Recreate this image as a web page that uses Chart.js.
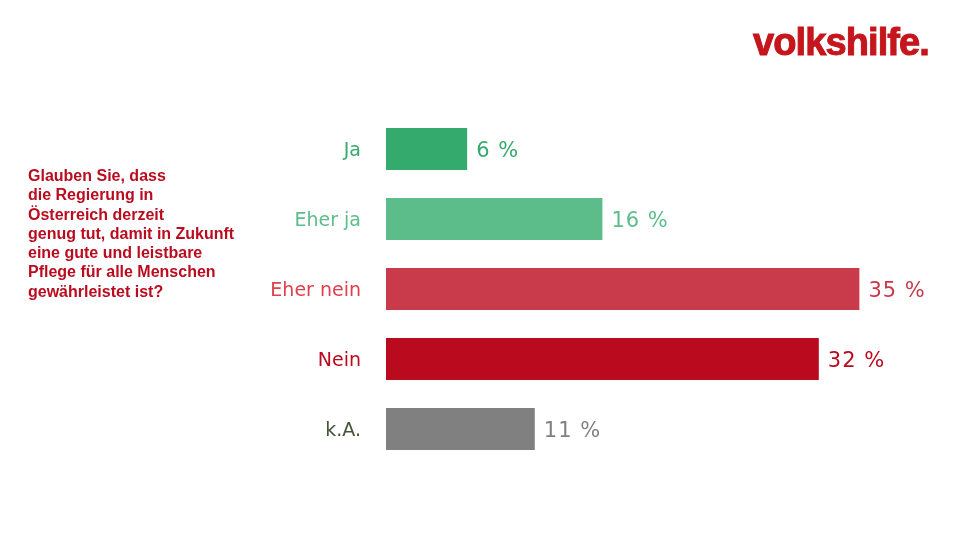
<!DOCTYPE html>
<html>
<head>
<meta charset="utf-8">
<script src="https://cdn.jsdelivr.net/npm/chart.js@4"></script>
<style>
  html, body { margin:0; padding:0; background:#fff; }
  #wrap { position:relative; width:960px; height:540px; overflow:hidden; }
  #c { position:absolute; left:0; top:0; }
  #logo { position:absolute; left:753px; top:23px; font-family:"Liberation Sans", Arial, sans-serif; font-weight:bold; font-size:38px; line-height:1; letter-spacing:-0.9px; color:#C4161C; -webkit-text-stroke:1px #C4161C; white-space:nowrap; }
  #question { position:absolute; left:28px; top:166px; font-family:"Liberation Sans", Arial, sans-serif; font-weight:bold; font-size:16px; line-height:19.3px; color:#BA0C1F; white-space:nowrap; }
</style>
</head>
<body>
<div id="wrap">
  <canvas id="c" width="960" height="540"></canvas>
  <div id="logo">volkshilfe.</div>
  <div id="question">Glauben Sie, dass<br>die Regierung in<br>Österreich derzeit<br>genug tut, damit in Zukunft<br>eine gute und leistbare<br>Pflege für alle Menschen<br>gewährleistet ist?</div>
</div>
<script>
const categories = ["Ja", "Eher ja", "Eher nein", "Nein", "k.A."];
const values = [6, 16, 35, 32, 11];
const valueLabels = ["6 %", "16 %", "35 %", "32 %", "11 %"];
const barColors = ["#34AB6C", "#5CBD8A", "#C93A4B", "#BA0A1E", "#808080"];
const categoryColors = ["#34AB6C", "#5CBD8A", "#E0404A", "#BA0A1E", "#44553A"];
const valueColors = ["#34AB6C", "#5CBD8A", "#C93A4B", "#BA0A1E", "#808080"];

const valueLabelPlugin = {
  id: 'valueLabels',
  afterDatasetsDraw(chart) {
    const ctx = chart.ctx;
    const meta = chart.getDatasetMeta(0);
    ctx.save();
    ctx.font = '21px "DejaVu Sans", Verdana, sans-serif';
    ctx.letterSpacing = '1px';
    ctx.textBaseline = 'middle';
    ctx.textAlign = 'left';
    meta.data.forEach((bar, i) => {
      ctx.fillStyle = valueColors[i];
      ctx.fillText(valueLabels[i], bar.x + 9, bar.y + 2.5);
    });
    ctx.restore();
  }
};

new Chart(document.getElementById('c'), {
  type: 'bar',
  data: {
    labels: categories,
    datasets: [{
      data: values,
      backgroundColor: barColors,
      borderWidth: 0,
      barPercentage: 0.6,
      categoryPercentage: 1.0
    }]
  },
  options: {
    indexAxis: 'y',
    responsive: false,
    animation: false,
    devicePixelRatio: 1,
    layout: { padding: { left: 0, right: 33, top: 114, bottom: 76 } },
    plugins: { legend: { display: false }, tooltip: { enabled: false } },
    scales: {
      x: { display: false, min: 0, max: 40 },
      y: {
        grid: { display: false, drawTicks: false },
        border: { display: false },
        ticks: {
          padding: 25,
          labelOffset: 2,
          color: (c) => categoryColors[c.index],
          font: { family: '"DejaVu Sans", Verdana, sans-serif', size: 19 }
        },
        afterFit(scale) { scale.width = 386; }
      }
    }
  },
  plugins: [valueLabelPlugin]
});
</script>
</body>
</html>
